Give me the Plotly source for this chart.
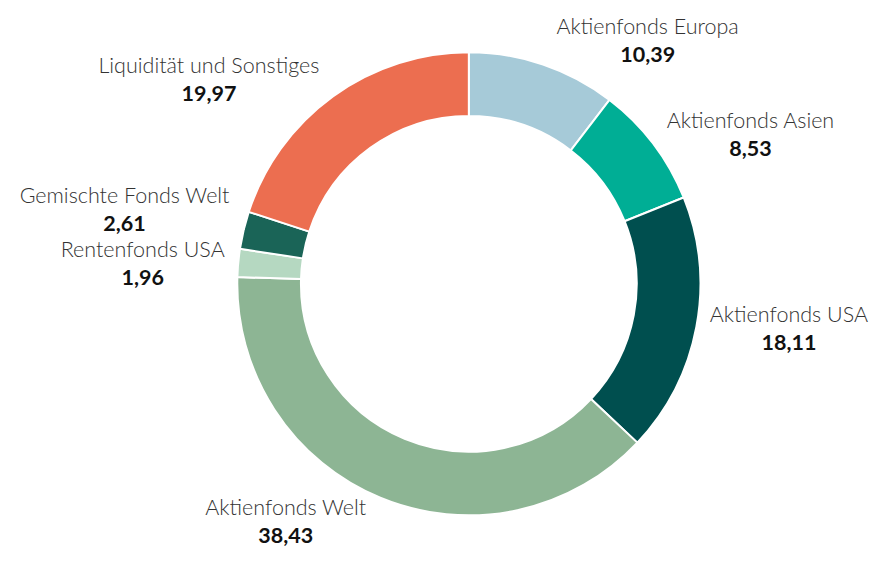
import plotly.graph_objects as go

categories = ["Aktienfonds Europa", "Aktienfonds Asien", "Aktienfonds USA", "Aktienfonds Welt",
              "Rentenfonds USA", "Gemischte Fonds Welt", "Liquidität und Sonstiges"]
values = [10.39, 8.53, 18.11, 38.43, 1.96, 2.61, 19.97]
colors = ["#a6cad8", "#00ae95", "#004f4f", "#8db594", "#b5d8c1", "#1a6457", "#ec6e50"]

W, H = 882, 565
cx, cy, r = 456, 269, 237


def clamp(v):
    return max(0.0, min(1.0, v))


fig = go.Figure(go.Pie(
    labels=categories,
    values=values,
    sort=False,
    direction="clockwise",
    rotation=0,
    hole=0.725,
    marker=dict(colors=colors, line=dict(color="white", width=2)),
    textposition="outside",
    texttemplate="<span style='font-family:Lato Light, Lato;font-weight:300;color:#333'>%{label}</span><br>"
                 "<span style='color:#111'><b>%{value:.2f}</b></span>",
    textfont=dict(family="Lato", size=21.5, color="white"),
    showlegend=False,
    domain=dict(x=[clamp((cx - r) / W), clamp((cx + r) / W)],
                y=[clamp((H - cy - r) / H), clamp((H - cy + r) / H)]),
))
fig.update_layout(
    width=W, height=H,
    margin=dict(l=0, r=0, t=0, b=0),
    separators=",.",
    paper_bgcolor="white",
    plot_bgcolor="white",
)
fig.write_html("out.html")
